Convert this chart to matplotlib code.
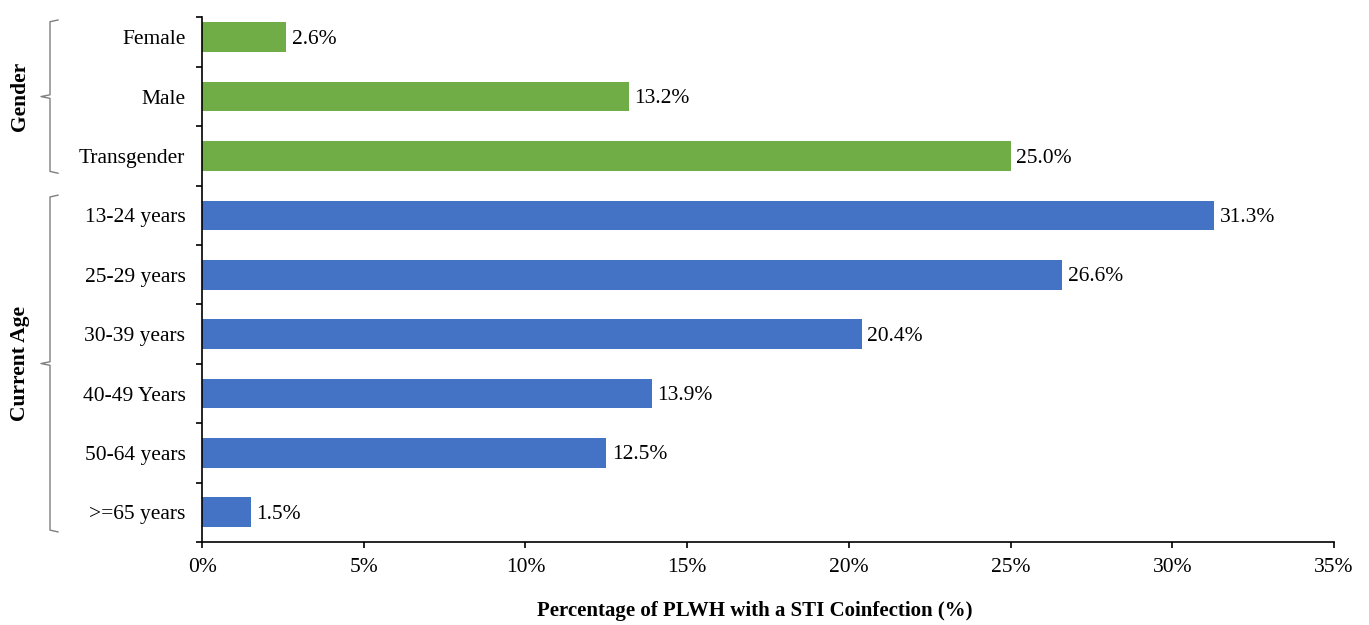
import numpy as np
import matplotlib.pyplot as plt
from matplotlib.transforms import blended_transform_factory

plt.rcParams['font.family'] = ['Liberation Serif', 'DejaVu Serif']

# data
categories = ['Female', 'Male', 'Transgender',
              '13-24 years', '25-29 years', '30-39 years',
              '40-49 Years', '50-64 years', '>=65 years']
values = [2.6, 13.2, 25.0, 31.3, 26.6, 20.4, 13.9, 12.5, 1.5]
groups = ['Gender', 'Gender', 'Gender',
          'Current Age', 'Current Age', 'Current Age',
          'Current Age', 'Current Age', 'Current Age']
group_colors = {'Gender': '#70AD47', 'Current Age': '#4472C4'}

fs = 15.5

fig = plt.figure(figsize=(13.69, 6.25), dpi=100)
ax = fig.add_axes([0.1476, 0.1328, 0.9744 - 0.1476, 0.9728 - 0.1328])

y = np.arange(len(categories))
colors = [group_colors[g] for g in groups]
ax.barh(y, values, height=0.5, color=colors)

for yi, v in zip(y, values):
    ax.annotate(f'{v:.1f}%', (v, yi), xytext=(4, -1.5), textcoords='offset points',
                va='center', ha='left', fontsize=fs)

ax.set_xlim(0, 35)
ax.set_ylim(len(categories) - 0.5, -0.34)
ax.set_xticks(np.arange(0, 36, 5))
ax.set_xticklabels([f'{t}%' for t in range(0, 36, 5)], fontsize=fs)
ax.set_yticks(y)
ax.set_yticklabels(categories, fontsize=fs)
ax.set_yticks(list(np.arange(0.5, len(categories) - 1, 1.0)) + [-0.34, len(categories) - 0.5], minor=True)
ax.tick_params(axis='y', which='major', length=0, pad=12)
ax.tick_params(axis='y', which='minor', length=4.5, width=1.2, direction='out')
ax.tick_params(axis='x', length=4.5, width=1.2, pad=7)

for s in ['top', 'right']:
    ax.spines[s].set_visible(False)
ax.spines['left'].set_linewidth(1.2)
ax.spines['bottom'].set_linewidth(1.2)

ax.set_xlabel('Percentage of PLWH with a STI Coinfection (%)', fontsize=15,
              fontweight='bold')
ax.xaxis.set_label_coords(0.488, -0.113)

# group brackets and labels on the left
tr = blended_transform_factory(fig.transFigure, ax.transData)
bx = 50 / 1369
hook = 8 / 1369
notch = 9 / 1369
for name, top, bottom in [('Gender', -0.29, 2.29), ('Current Age', 2.66, 8.33)]:
    mid = (top + bottom) / 2
    xs = [bx + hook, bx, bx, bx - notch, bx, bx, bx + hook]
    ys = [top, top + 0.03, mid - 0.03, mid, mid + 0.03, bottom - 0.03, bottom]
    ax.plot(xs, ys, color='#7f7f7f', lw=1.0, transform=tr, clip_on=False)
    ax.text(20 / 1369, mid, name, rotation=90, ha='center', va='center',
            fontsize=fs, fontweight='bold', transform=tr)

fig.savefig('out.png', dpi=100)
